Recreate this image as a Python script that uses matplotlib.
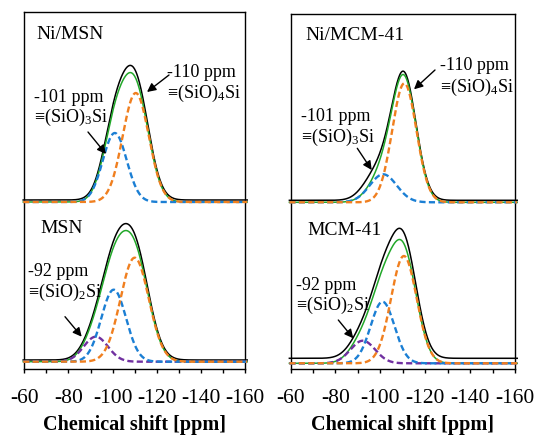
import numpy as np
import matplotlib
matplotlib.use("Agg")
import matplotlib.pyplot as plt

plt.rcParams['font.family'] = ['Liberation Serif', 'DejaVu Serif']
plt.rcParams['mathtext.fontset'] = 'custom'
plt.rcParams['mathtext.rm'] = 'Liberation Serif'
plt.rcParams['mathtext.default'] = 'rm'

# ---- data ----
tick_values = [-60, -80, -100, -120, -140, -160]
tick_labels = ["-60", "-80", "-100", "-120", "-140", "-160"]
minor_values = [-70, -90, -110, -130, -150]

panel_names = ["Ni/MSN", "MSN", "Ni/MCM-41", "MCM-41"]

# deconvolution components: centre (ppm), height, width (sigma, ppm)
ni_msn_centres = [-101.0, -110.5]
ni_msn_heights = [69, 109]
ni_msn_sigmas = [5.4, 5.9]
ni_msn_colors = ["blue", "orange"]

msn_centres = [-92.4, -100.5, -110.0]
msn_heights = [25, 72, 104]
msn_sigmas = [5.5, 5.6, 6.4]
msn_colors = ["purple", "blue", "orange"]

ni_mcm_centres = [-101.3, -110.7]
ni_mcm_heights = [28, 119]
ni_mcm_sigmas = [6.0, 5.4]
ni_mcm_colors = ["blue", "orange"]

mcm_centres = [-92.2, -101.0, -110.5]
mcm_heights = [22.6, 61.6, 107.3]
mcm_sigmas = [5.5, 5.3, 5.7]
mcm_colors = ["purple", "blue", "orange"]

# measured spectrum relative to the fit: scale, baseline, extra shoulder
measured_scale = [1.04, 1.04, 1.01, 1.05]
measured_base = [2.0, 1.7, 2.0, 5.0]
extra_centres = [None, None, -95.0, None]
extra_heights = [0, 0, 7.0, 0]
extra_sigmas = [1, 1, 5.0, 1]

colors = {"blue": "#1b7fd4", "orange": "#f07f1f", "purple": "#7030a0"}
fit_color = "#22a82a"

W, H = 536, 436
fig = plt.figure(figsize=(W / 100, H / 100), dpi=100)


def px_axes(x0, x1, ytop, ybot):
    return fig.add_axes([x0 / W, 1 - ybot / H, (x1 - x0) / W, (ybot - ytop) / H])


axL = px_axes(24.3, 245.0, 12.5, 369.3)
axR = px_axes(290.5, 515.0, 14.0, 369.3)

x = np.linspace(-59.5, -161, 600)


def gauss(c, h, s):
    return h * np.exp(-((x - c) ** 2) / (2 * s ** 2))


def draw_panel(ax, idx, centres, heights, sigmas, cnames, base):
    comps = [gauss(c, h, s) for c, h, s in zip(centres, heights, sigmas)]
    fit = np.sum(comps, axis=0)
    meas = fit * measured_scale[idx] + measured_base[idx]
    if extra_centres[idx] is not None:
        meas = meas + gauss(extra_centres[idx], extra_heights[idx], extra_sigmas[idx])
    ax.plot(x, meas + base, color="black", lw=1.1, clip_on=False, zorder=3)
    ax.plot(x, fit + base, color=fit_color, lw=1.1, clip_on=False, zorder=4)
    for comp, cn in zip(comps, cnames):
        ax.plot(x, comp + base, color=colors[cn], lw=1.7,
                linestyle=(0, (2.6, 1.4)), clip_on=False, zorder=5)


draw_panel(axL, 0, ni_msn_centres, ni_msn_heights, ni_msn_sigmas, ni_msn_colors, 167.3)
draw_panel(axL, 1, msn_centres, msn_heights, msn_sigmas, msn_colors, 7.6)
draw_panel(axR, 2, ni_mcm_centres, ni_mcm_heights, ni_mcm_sigmas, ni_mcm_colors, 167.0)
draw_panel(axR, 3, mcm_centres, mcm_heights, mcm_sigmas, mcm_colors, 6.0)

for ax, ytop in ((axL, 356.8), (axR, 355.3)):
    ax.set_xlim(-60, -160)
    ax.set_ylim(0, ytop)
    ax.set_yticks([])
    ax.set_xticks(tick_values)
    ax.set_xticklabels(tick_labels, fontsize=15.5)
    ax.set_xticks(minor_values, minor=True)
    ax.tick_params(axis="x", which="both", direction="out", length=3.2, width=1.0, pad=11)
    for sp in ax.spines.values():
        sp.set_linewidth(1.0)
    ax.set_xlabel("Chemical shift [ppm]", fontsize=14.5, fontweight="bold", labelpad=5)


def ftext(px, py, s, size=13):
    fig.text(px / W, 1 - py / H, s, fontsize=size, va="baseline", ha="left")


def arrow(x0, y0, x1, y1):
    fig.add_artist(matplotlib.patches.FancyArrowPatch(
        (x0 / W, 1 - y0 / H), (x1 / W, 1 - y1 / H), transform=fig.transFigure,
        arrowstyle="-|>", mutation_scale=13, color="black", lw=1.0,
        shrinkA=0, shrinkB=0))


# panel labels
ftext(36.7, 39.3, panel_names[0], 14)
ftext(40.0, 233.3, panel_names[1], 14)
ftext(305.0, 40.0, panel_names[2], 14)
ftext(307.3, 235.0, panel_names[3], 14)

# Ni/MSN annotations
ftext(167, 77, "-110 ppm")
ftext(167, 98, "≡(SiO)$_4$Si")
arrow(169, 75, 147, 92)
ftext(34, 101.7, "-101 ppm")
ftext(34, 122, "≡(SiO)$_3$Si")
arrow(88, 132, 106, 154)

# Ni/MCM-41 annotations
ftext(440, 70, "-110 ppm")
ftext(440, 91.7, "≡(SiO)$_4$Si")
arrow(435, 70, 414, 89.3)
ftext(301, 120.7, "-101 ppm")
ftext(301, 141.7, "≡(SiO)$_3$Si")
arrow(357.3, 148.3, 371.7, 170)

# MSN annotation
ftext(27.5, 276, "-92 ppm")
ftext(27.5, 296.7, "≡(SiO)$_2$Si")
arrow(65, 316.7, 81.7, 336.7)

# MCM-41 annotation
ftext(295.5, 290, "-92 ppm")
ftext(295.5, 310, "≡(SiO)$_2$Si")
arrow(338.3, 320, 353.3, 338.3)

fig.savefig("out.png", dpi=100)
